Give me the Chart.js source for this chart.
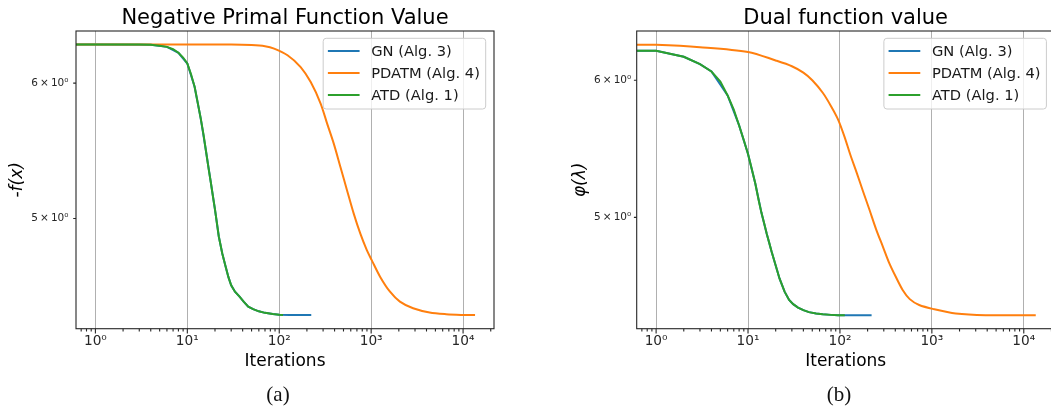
<!DOCTYPE html>
<html>
<head>
<meta charset="utf-8">
<script src="https://cdn.jsdelivr.net/npm/chart.js@4.4.1/dist/chart.umd.min.js"></script>
<style>
  html, body { margin: 0; padding: 0; background: #fff; overflow: hidden; }
  body { width: 1051px; height: 408px; position: relative; }
  .box { position: absolute; top: 0; height: 408px; }
  .cap { position: absolute; top: 382px; width: 80px; text-align: center;
         font: 21px "Liberation Serif", serif; color: #111; line-height: 24px; }
</style>
</head>
<body>
<div class="box" style="left:0;width:525px"><canvas id="primal"></canvas></div>
<div class="box" style="left:525px;width:540px"><canvas id="dual"></canvas></div>
<div class="cap" style="left:238px">(a)</div>
<div class="cap" style="left:799px">(b)</div>
<script>
// x tick labels (decades) and y tick labels
const xMajor = [1, 10, 100, 1000, 10000];
const xTickLabels = ["10\u2070", "10\u00b9", "10\u00b2", "10\u00b3", "10\u2074"];
const yTickValues = [5, 6];
const yTickLabels = ["5\u2009\u00d7\u200910\u2070", "6\u2009\u00d7\u200910\u2070"];

const seriesNames = ["GN (Alg. 3)", "PDATM (Alg. 4)", "ATD (Alg. 1)"];
const seriesColors = ["#1f77b4", "#ff7f0e", "#2ca02c"];

// (a) negative primal function value
const primalAtdIter = [0, 1, 2, 3, 4, 5, 6, 7, 8, 9, 10, 11, 12, 13, 14, 15, 16, 17, 18, 19, 20, 22, 24, 26, 28, 30, 33, 37, 41, 46, 52, 60, 70, 85, 100, 110];
const primalAtdVal = [6.32, 6.32, 6.32, 6.32, 6.318, 6.31, 6.30, 6.28, 6.25, 6.21, 6.16, 6.07, 5.97, 5.84, 5.72, 5.60, 5.47, 5.35, 5.25, 5.15, 5.06, 4.88, 4.77, 4.69, 4.62, 4.57, 4.53, 4.50, 4.47, 4.44, 4.425, 4.412, 4.403, 4.396, 4.392, 4.391];
const primalGnIter = [0, 1, 4, 6, 8, 10, 12, 14, 16, 18, 20, 22, 24, 26, 28, 30, 33, 37, 41, 46, 52, 60, 70, 85, 100, 130, 160, 190, 223];
const primalGnVal = [6.32, 6.32, 6.318, 6.30, 6.25, 6.16, 5.97, 5.72, 5.47, 5.25, 5.06, 4.88, 4.77, 4.69, 4.62, 4.57, 4.53, 4.50, 4.47, 4.44, 4.425, 4.412, 4.403, 4.396, 4.392, 4.39, 4.39, 4.39, 4.39];
const primalPdatmIter = [0, 1, 10, 30, 50, 70, 88, 123, 171, 220, 282, 332, 392, 463, 546, 645, 761, 897, 1014, 1250, 1603, 2055, 2860, 4325, 6540, 9500, 13500];
const primalPdatmVal = [6.32, 6.32, 6.32, 6.32, 6.315, 6.305, 6.285, 6.229, 6.131, 6.008, 5.837, 5.681, 5.53, 5.359, 5.194, 5.034, 4.90, 4.791, 4.727, 4.623, 4.53, 4.47, 4.43, 4.405, 4.395, 4.391, 4.39];

// (b) dual function value
const dualAtdIter = [0, 1, 2, 3, 4, 5, 6, 7, 8, 9, 10, 11, 12, 13, 14, 15, 16, 17, 18, 20, 22, 25, 28, 31, 35, 40, 46, 55, 65, 80, 95, 113];
const dualAtdVal = [6.24, 6.24, 6.19, 6.13, 6.07, 5.99, 5.88, 5.77, 5.65, 5.54, 5.44, 5.33, 5.23, 5.12, 5.03, 4.96, 4.89, 4.835, 4.78, 4.69, 4.61, 4.53, 4.48, 4.455, 4.435, 4.42, 4.408, 4.40, 4.395, 4.392, 4.39, 4.39];
const dualGnIter = [0, 1, 2, 3, 4, 6, 8, 10, 12, 14, 16, 18, 20, 22, 25, 28, 31, 35, 40, 46, 55, 65, 80, 95, 113, 140, 180, 221];
const dualGnVal = [6.24, 6.24, 6.19, 6.13, 6.07, 5.88, 5.65, 5.44, 5.23, 5.03, 4.89, 4.78, 4.69, 4.61, 4.53, 4.48, 4.455, 4.435, 4.42, 4.408, 4.40, 4.395, 4.392, 4.39, 4.39, 4.39, 4.39, 4.39];
const dualPdatmIter = [0, 1, 3, 10, 20, 30, 40, 50, 65, 80, 95, 112, 130, 152, 177, 210, 247, 295, 344, 405, 481, 575, 728, 1060, 1820, 3850, 13500];
const dualPdatmVal = [6.29, 6.29, 6.27, 6.23, 6.16, 6.113, 6.061, 6.0, 5.901, 5.797, 5.698, 5.567, 5.432, 5.307, 5.182, 5.049, 4.923, 4.805, 4.705, 4.62, 4.54, 4.485, 4.45, 4.425, 4.40, 4.39, 4.39];

const FONT = "'DejaVu Sans', sans-serif";

function pts(xs, ys) {
  return xs.map((x, i) => ({ x: x, y: ys[i] }));
}

const framePlugin = {
  id: "frame",
  afterDraw(chart) {
    const { ctx, chartArea: a, scales } = chart;
    const x = scales.x, y = scales.y;
    ctx.save();
    // title centred over the axes
    ctx.font = "21px " + FONT;
    ctx.fillStyle = "#000";
    ctx.textAlign = "center";
    ctx.textBaseline = "alphabetic";
    ctx.fillText(chart.options.plugins.frame.title, (a.left + a.right) / 2, 24.3);
    ctx.textAlign = "left";

    ctx.strokeStyle = "#262626";
    ctx.lineWidth = 1.1;
    ctx.beginPath();
    x.ticks.forEach(t => {
      const px = x.getPixelForValue(t.value);
      const len = t.major ? 4.9 : 2.8;
      ctx.moveTo(px, a.bottom);
      ctx.lineTo(px, a.bottom + len);
    });
    y.ticks.forEach(t => {
      const py = y.getPixelForValue(t.value);
      ctx.moveTo(a.left, py);
      ctx.lineTo(a.left - 2.8, py);
    });
    ctx.stroke();
    ctx.strokeRect(a.left, a.top, a.right - a.left, a.bottom - a.top);

    // legend, upper right inside the axes
    const ds = chart.data.datasets;
    ctx.font = "14.7px " + FONT;
    const tw = Math.max(...ds.map(d => ctx.measureText(d.label).width));
    const w = 4.7 + 31.7 + 11.7 + tw + 5.7;
    const h = 70.7;
    const bx = a.right - 8.3 - w, by = a.top + 7.3;
    ctx.beginPath();
    ctx.roundRect(bx, by, w, h, 3);
    ctx.fillStyle = "rgba(255,255,255,0.8)";
    ctx.fill();
    ctx.strokeStyle = "#cccccc";
    ctx.lineWidth = 1;
    ctx.stroke();
    ds.forEach((d, i) => {
      const cy = by + 12.7 + i * 22;
      ctx.beginPath();
      ctx.strokeStyle = d.borderColor;
      ctx.lineWidth = 2;
      ctx.moveTo(bx + 4.7, cy);
      ctx.lineTo(bx + 36.4, cy);
      ctx.stroke();
      ctx.fillStyle = "#1a1a1a";
      ctx.textBaseline = "middle";
      ctx.fillText(d.label, bx + 48, cy + 1);
    });
    ctx.restore();
  }
};

function makeChart(id, title, yTitle, series, opts) {
  const datasets = series.map((s, i) => ({
    label: seriesNames[i],
    data: s,
    borderColor: seriesColors[i],
    backgroundColor: seriesColors[i],
    borderWidth: 2,
    pointRadius: 0,
    fill: false,
    order: [2, 1, 0][i],
    tension: i === 1 ? 0.3 : 0
  }));

  return new Chart(document.getElementById(id), {
    type: "line",
    data: { datasets },
    plugins: [framePlugin],
    options: {
      responsive: true,
      maintainAspectRatio: false,
      animation: false,
      events: [],
      layout: { padding: { left: opts.padLeft, right: opts.padRight, top: 31, bottom: 28 } },
      plugins: {
        legend: { display: false },
        tooltip: { enabled: false },
        title: { display: false },
        frame: { title: title }
      },
      scales: {
        x: {
          type: "logarithmic",
          min: 0.615,
          max: 21700,
          bounds: "data",
          afterBuildTicks(axis) {
            const ticks = [];
            for (let e = -1; e <= 4; e++) {
              for (let m = 1; m < 10; m++) {
                const v = m * Math.pow(10, e);
                if (v >= axis.min && v <= axis.max) ticks.push({ value: v, major: m === 1 });
              }
            }
            axis.ticks = ticks;
          },
          afterFit(axis) { axis.height = 51.3; },
          grid: {
            drawTicks: false,
            lineWidth: 1,
            color: c => (c.tick && c.tick.major ? "#b0b0b0" : "rgba(0,0,0,0)")
          },
          border: { display: false },
          ticks: {
            autoSkip: false,
            maxRotation: 0,
            padding: 5,
            color: "#262626",
            font: { family: FONT, size: 13.7 },
            callback: (v, i, ticks) => {
              const k = xMajor.indexOf(ticks[i].value);
              return k >= 0 ? xTickLabels[k] : "";
            }
          },
          title: {
            display: true,
            text: "Iterations",
            color: "#000",
            font: { family: FONT, size: 17 },
            padding: { top: 0, bottom: 8.4 }
          }
        },
        y: {
          type: "logarithmic",
          min: opts.yMin,
          max: opts.yMax,
          bounds: "data",
          afterBuildTicks(axis) {
            axis.ticks = yTickValues.map(v => ({ value: v }));
          },
          afterFit(axis) { axis.width = opts.yWidth; },
          grid: { display: false, drawTicks: false },
          border: { display: false },
          ticks: {
            padding: opts.yPad,
            color: "#262626",
            font: { family: FONT, size: 10.5 },
            callback: (v, i) => yTickLabels[i]
          },
          title: {
            display: true,
            text: yTitle,
            color: "#000",
            font: { family: FONT, size: 17, style: "italic" },
            padding: { top: 7, bottom: 0 }
          }
        }
      }
    }
  });
}

makeChart("primal", "Negative Primal Function Value", "-f(x)",
  [pts(primalGnIter, primalGnVal), pts(primalPdatmIter, primalPdatmVal), pts(primalAtdIter, primalAtdVal)],
  { padLeft: 0, padRight: 31, yWidth: 76, yPad: 7.5, yMin: 4.31, yMax: 6.436 });

makeChart("dual", "Dual function value", "\u03c6(\u03bb)",
  [pts(dualGnIter, dualGnVal), pts(dualPdatmIter, dualPdatmVal), pts(dualAtdIter, dualAtdVal)],
  { padLeft: 38, padRight: 10.3, yWidth: 73.7, yPad: 5.5, yMin: 4.312, yMax: 6.406 });
</script>
</body>
</html>
